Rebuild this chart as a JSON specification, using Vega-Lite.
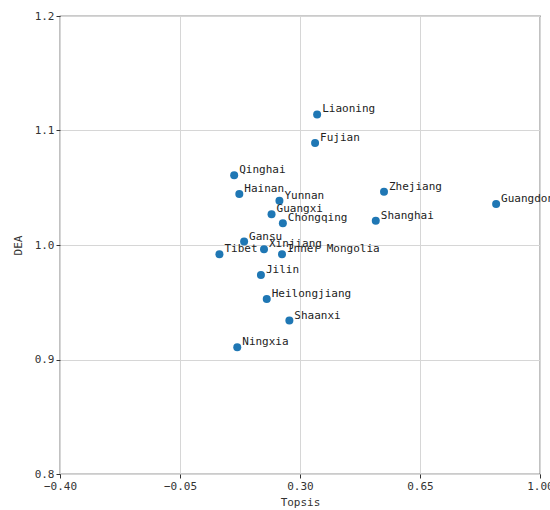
{
  "$schema": "https://vega.github.io/schema/vega-lite/v6.json",
  "width": 480,
  "height": 458,
  "autosize": {"type": "none"},
  "padding": {"left": 60, "top": 16, "right": 10, "bottom": 36},
  "background": "white",
  "config": {
    "view": {"stroke": "#333333", "strokeWidth": 1.2},
    "axis": {
      "domain": false,
      "grid": true,
      "gridColor": "#d6d6d6",
      "gridWidth": 1,
      "tickColor": "#333333",
      "tickSize": 4,
      "labelFlush": false,
      "labelFont": "DejaVu Sans Mono",
      "labelFontSize": 11,
      "labelColor": "#333333",
      "titleFont": "DejaVu Sans Mono",
      "titleFontSize": 11,
      "titleFontWeight": "normal",
      "titleColor": "#333333"
    }
  },
  "data": {
    "values": [
      {"province": "Liaoning", "topsis": 0.350, "dea": 1.114},
      {"province": "Fujian", "topsis": 0.344, "dea": 1.089},
      {"province": "Qinghai", "topsis": 0.108, "dea": 1.061},
      {"province": "Hainan", "topsis": 0.123, "dea": 1.0445},
      {"province": "Yunnan", "topsis": 0.240, "dea": 1.0387},
      {"province": "Guangxi", "topsis": 0.217, "dea": 1.0268},
      {"province": "Chongqing", "topsis": 0.250, "dea": 1.019},
      {"province": "Gansu", "topsis": 0.137, "dea": 1.003},
      {"province": "Tibet", "topsis": 0.065, "dea": 0.992},
      {"province": "Xinjiang", "topsis": 0.195, "dea": 0.9962},
      {"province": "Inner Mongolia", "topsis": 0.2475, "dea": 0.9919},
      {"province": "Jilin", "topsis": 0.186, "dea": 0.9738},
      {"province": "Heilongjiang", "topsis": 0.203, "dea": 0.9528},
      {"province": "Shaanxi", "topsis": 0.269, "dea": 0.934},
      {"province": "Ningxia", "topsis": 0.117, "dea": 0.9107},
      {"province": "Zhejiang", "topsis": 0.545, "dea": 1.0466},
      {"province": "Shanghai", "topsis": 0.521, "dea": 1.0212},
      {"province": "Guangdong", "topsis": 0.872, "dea": 1.0358}
    ]
  },
  "encoding": {
    "x": {
      "field": "topsis",
      "type": "quantitative",
      "title": "Topsis",
      "scale": {"domain": [-0.4, 1.0], "nice": false, "zero": false},
      "axis": {"values": [-0.4, -0.05, 0.3, 0.65, 1.0], "format": ".2f", "titlePadding": 5}
    },
    "y": {
      "field": "dea",
      "type": "quantitative",
      "title": "DEA",
      "scale": {"domain": [0.8, 1.2], "nice": false, "zero": false},
      "axis": {"values": [0.8, 0.9, 1.0, 1.1, 1.2], "format": ".1f", "titlePadding": 11}
    }
  },
  "layer": [
    {
      "mark": {"type": "point", "filled": true, "size": 64, "opacity": 1, "color": "#1f77b4"}
    },
    {
      "mark": {"type": "text", "align": "left", "baseline": "middle", "dx": 5, "dy": -5, "font": "DejaVu Sans Mono", "fontSize": 11, "color": "#222222", "clip": false},
      "encoding": {"text": {"field": "province"}}
    }
  ]
}
